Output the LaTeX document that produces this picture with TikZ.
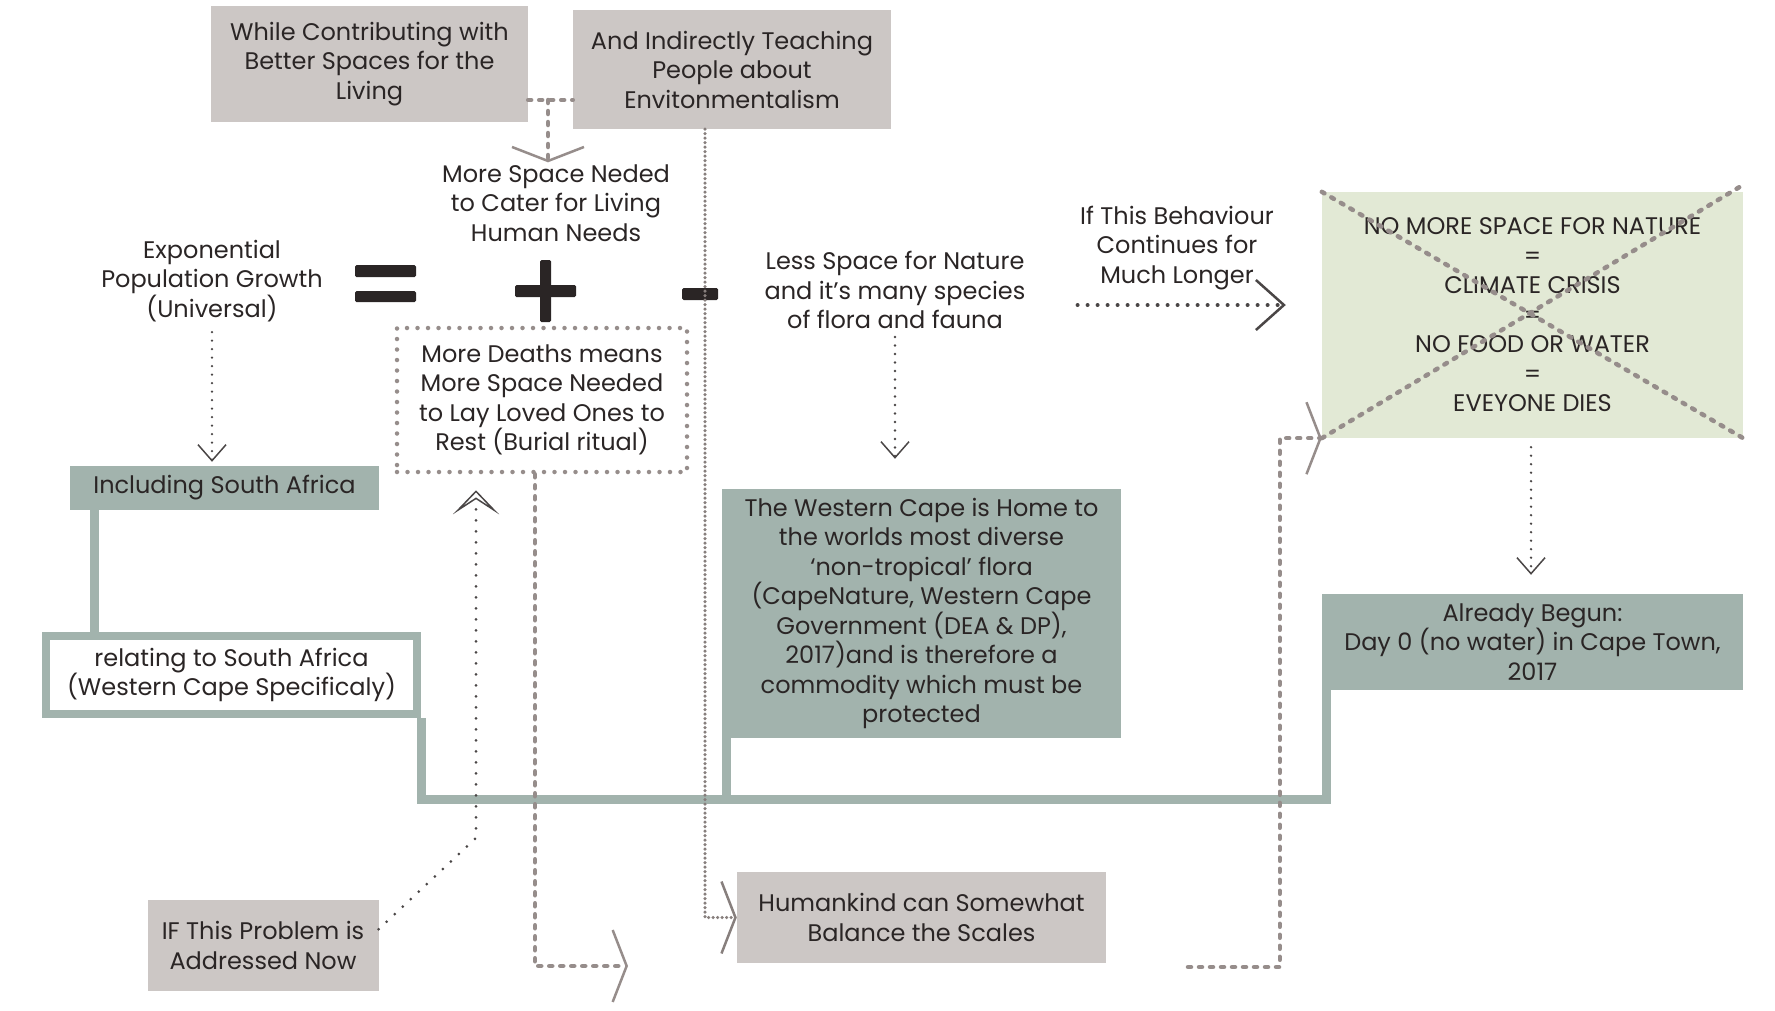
\documentclass[tikz,border=0pt]{standalone}
\usepackage{fontspec}
\setmainfont{Poppins}
\usepackage{xcolor}
\usetikzlibrary{arrows.meta}

\definecolor{ink}{HTML}{2A2525}
\definecolor{boxgrey}{HTML}{CCC7C5}
\definecolor{sage}{HTML}{A2B3AD}
\definecolor{leaf}{HTML}{E2E9D5}
\definecolor{stone}{HTML}{968D8B}

\begin{document}
\begin{tikzpicture}[
    x=1pt,y=-1pt,
    every node/.style={font=\fontsize{24}{29.5}\selectfont,text=ink,align=center},
    gb/.style={fill=boxgrey,inner sep=0pt},
    tb/.style={fill=sage,inner sep=0pt},
    wb/.style={fill=white,draw=sage,line width=8pt,inner sep=0pt},
    nb/.style={fill=leaf,inner sep=0pt},
    db/.style={draw=stone,line width=4.5pt,line cap=round,dash pattern=on 0pt off 10.5pt,inner sep=0pt},
    txt/.style={inner sep=2pt},
    gl/.style={draw=stone,line width=4.5pt,line cap=round,dash pattern=on 3pt off 8pt},
    fl/.style={draw=stone!90!black,line width=3.5pt,line cap=round,dash pattern=on 0pt off 4.5pt},
    dl/.style={draw=ink!85,line width=2.6pt,line cap=round,dash pattern=on 0pt off 8.5pt},
    tl/.style={draw=sage,line width=9pt},
    sgn/.style={fill=ink,rounded corners=1.5pt},
    gv/.style={-{Straight Barb[length=14pt,width=72pt,line width=2.5pt]}},
    sv/.style={-{Straight Barb[length=16pt,width=28pt,line width=1.5pt]}},
  ]
  \useasboundingbox (0,0) rectangle (1775,1010);

  % -- boxes --
  \node[gb,minimum width=317pt,minimum height=116pt] (living) at (369.5,64)
       {While Contributing with\\Better Spaces for the\\Living};
  \node[gb,minimum width=318pt,minimum height=119pt] (teach) at (732,69.5)
       {And Indirectly Teaching\\People about\\Envitonmentalism};
  \node[db,minimum width=290pt,minimum height=144pt] (deaths) at (542,400)
       {More Deaths means\\More Space Needed\\to Lay Loved Ones to\\Rest (Burial ritual)};
  \node[nb,minimum width=421pt,minimum height=246pt] (nature) at (1532.5,315)
       {NO MORE SPACE FOR NATURE\\=\\CLIMATE CRISIS\\=\\NO FOOD OR WATER\\=\\EVEYONE DIES};
  \node[tb,minimum width=309pt,minimum height=44pt] (incl) at (224.5,488)
       {Including South Africa};
  \node[wb,minimum width=371pt,minimum height=78pt] (relate) at (231.5,675)
       {relating to South Africa\\(Western Cape Specificaly)};
  \node[tb,minimum width=399pt,minimum height=249pt] (wcape) at (921.5,613.5)
       {The Western Cape is Home to\\the worlds most diverse\\‘non-tropical’ flora\\(CapeNature, Western Cape\\Government (DEA \& DP),\\2017)and is therefore a\\commodity which must be\\protected};
  \node[tb,minimum width=421pt,minimum height=96pt] (already) at (1532.5,642)
       {Already Begun:\\Day 0 (no water) in Cape Town,\\2017};
  \node[gb,minimum width=369pt,minimum height=91pt] (human) at (921.5,917.5)
       {Humankind can Somewhat\\Balance the Scales};
  \node[gb,minimum width=231pt,minimum height=91pt] (ifnow) at (263,945.5)
       {IF This Problem is\\Addressed Now};

  % -- free texts --
  \node[txt] (expo) at (212,281) {Exponential\\Population Growth\\(Universal)};
  \node[txt] (needs) at (556,203) {More Space Neded\\to Cater for Living\\Human Needs};
  \node[txt] (less) at (895,290) {Less Space for Nature\\and it’s many species\\of flora and fauna};
  \node[txt] (behav) at (1177,248) {If This Behaviour\\Continues for\\Much Longer};

  % -- the equation signs --
  \fill[sgn] (355,265) rectangle (416,277);
  \fill[sgn] (355,291) rectangle (416,302);
  \fill[sgn] (515,285) rectangle (576,297);
  \fill[sgn] (540,260) rectangle (551,322);
  \fill[sgn] (682,288) rectangle (718,300);

  % -- the sage frame --
  \coordinate (base) at (0,799);
  \draw[tl] ([xshift=25pt]incl.south west) coordinate (t1) -- (t1 |- relate.north);
  \draw[tl] (relate.south east) |- ([xshift=5pt]already.south west |- base)
      -- ([xshift=5pt]already.south west);
  \draw[tl] ([xshift=5pt]wcape.south west) -- ([xshift=5pt]wcape.south west |- base);

  % -- cross over the last box --
  \draw[gl] (nature.north west) -- (nature.south east);
  \draw[gl] (nature.south west) -- ([yshift=7pt]nature.north east);

  % -- grey connectors --
  \coordinate (j) at (548,100);
  \draw[gl] (living.east |- j) -- (teach.west |- j);
  \draw[gl,gv] (j) -- (j |- needs.north);
  \draw[fl,gv] ([xshift=-27pt]teach.south) |- (human.west);
  \coordinate (dend) at (628,966);
  \draw[gl,gv] ([xshift=-7pt]deaths.south) |- (dend);
  \coordinate (dstart) at (1188,967);
  \draw[gl,gv] (dstart) -| ([xshift=-42pt]nature.south west) -- (nature.south west);

  % -- dark dotted connectors --
  \draw[dl,sv,shorten <=8pt,shorten >=4pt] (expo.south) -- (expo.south |- incl.north);
  \draw[dl,sv,shorten <=6pt,shorten >=30pt] (less.south) -- (less.south |- wcape.north);
  \draw[dl,sv,shorten <=9pt,shorten >=19pt] (nature.south -| 1531,0) -- (already.north -| 1531,0);
  \coordinate (bend) at (476,838);
  \draw[dl,line width=3pt,dash pattern=on 0pt off 11pt,
        -{Stealth[open,length=24pt,width=46pt,inset=15pt,line width=1.5pt]},
        shorten >=16pt] (ifnow.8) -- (bend) -- (deaths.south -| bend);
  \draw[dl,line width=4pt,dash pattern=on 0pt off 10pt,
        -{Straight Barb[length=28pt,width=50pt,line width=2.5pt]},
        shorten <=50pt,shorten >=36pt]
      ([yshift=-15pt]less.east) -- ([yshift=10pt]nature.west);
\end{tikzpicture}
\end{document}
